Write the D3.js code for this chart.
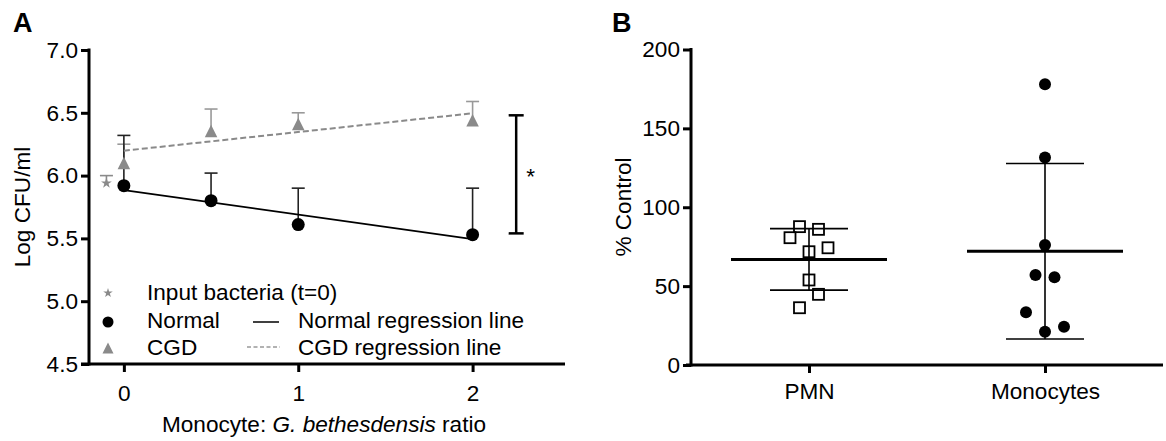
<!DOCTYPE html>
<html>
<head>
<meta charset="utf-8">
<script src="https://cdn.jsdelivr.net/npm/d3@7"></script>
<style>
  body { margin: 0; background: #fff; }
  svg { display: block; font-family: "Liberation Sans", Arial, sans-serif; }
  .axis text { font-size: 22.6px; fill: #000; }
  .axis line { stroke: #000; stroke-width: 3; }
</style>
</head>
<body>
<svg id="chart" width="1166" height="441"></svg>
<script>
// Panel A data
const ratios = [0, 0.5, 1, 2];
const normalMean = [5.92, 5.80, 5.61, 5.53];
const normalUpper = [6.32, 6.02, 5.90, 5.90];
const cgdMean = [6.10, 6.355, 6.41, 6.44];
const cgdUpper = [6.25, 6.53, 6.50, 6.59];
const inputRatio = [-0.1];
const inputMean = [5.94];
const inputUpper = [6.00];
const fitRatios = [0, 2];
const normalFit = [5.885, 5.495];
const cgdFit = [6.198, 6.496];
const sigBracket = [5.54, 6.48];
const sigRatio = 2.25;
const yTicksA = [4.5, 5.0, 5.5, 6.0, 6.5, 7.0];
const xTicksA = [0, 1, 2];
const markerLegend = ["Input bacteria (t=0)", "Normal", "CGD"];
const lineLegend = ["Normal regression line", "CGD regression line"];

// Panel B data
const groups = ["PMN", "Monocytes"];
const pmnValues = [87.7, 86.0, 80.7, 74.3, 71.8, 53.9, 44.8, 36.3];
const pmnSlot = [-1, 1, -2, 2, 0, 0, 1, -1];
const monoValues = [177.9, 131.6, 76.0, 57.0, 55.6, 33.4, 21.1, 24.3];
const monoSlot = [0, 0, 0, -1, 1, -2, 0, 2];
const yTicksB = [0, 50, 100, 150, 200];

const GREY = "#8a8a8a";
const FS = 22.6;
const svg = d3.select("#chart");

// Scales
const xA = d3.scaleLinear().domain([-0.2, 2.53]).range([89, 565]);
const yA = d3.scaleLinear().domain([4.5, 7.0]).range([364, 50]);
const xB = d3.scalePoint().domain(groups).range([691, 1163]).padding(0.5);
const yB = d3.scaleLinear().domain([0, 200]).range([365, 49.5]);

// Panel labels
svg.append("text").attr("x", 13).attr("y", 32).attr("font-size", 27).attr("font-weight", "bold").text("A");
svg.append("text").attr("x", 612).attr("y", 32).attr("font-size", 27).attr("font-weight", "bold").text("B");

// Axes for a panel
function drawAxes(x, y, xLeft, yAxis, xAxis) {
    const [x0, x1] = x.range();
    const [yb, yt] = y.range();
    const gy = svg.append("g").attr("class", "axis").attr("transform", `translate(${x0},0)`).call(yAxis);
    const gx = svg.append("g").attr("class", "axis").attr("transform", `translate(0,${yb})`).call(xAxis);
    gy.select(".domain").remove();
    gx.select(".domain").remove();
    svg.append("line").attr("x1", x0).attr("x2", x0).attr("y1", yt - 1.5).attr("y2", yb + 1.5)
        .attr("stroke", "#000").attr("stroke-width", 3);
    svg.append("line").attr("x1", xLeft).attr("x2", x1).attr("y1", yb).attr("y2", yb)
        .attr("stroke", "#000").attr("stroke-width", 3);
}

drawAxes(xA, yA, 81,
    d3.axisLeft(yA).tickValues(yTicksA).tickFormat(d3.format(".1f")).tickSize(8).tickPadding(3),
    d3.axisBottom(xA).tickValues(xTicksA).tickFormat(d3.format("d")).tickSize(8).tickPadding(13));
drawAxes(xB, yB, 686,
    d3.axisLeft(yB).tickValues(yTicksB).tickSize(8).tickPadding(3),
    d3.axisBottom(xB).tickSize(8).tickPadding(10));

// Axis titles
svg.append("text").attr("transform", "translate(30,207) rotate(-90)").attr("text-anchor", "middle")
    .attr("font-size", FS).text("Log CFU/ml");
svg.append("text").attr("transform", "translate(631,207) rotate(-90)").attr("text-anchor", "middle")
    .attr("font-size", FS).text("% Control");
const xt = svg.append("text").attr("x", 324).attr("y", 432).attr("text-anchor", "middle").attr("font-size", FS);
xt.append("tspan").text("Monocyte: ");
xt.append("tspan").attr("font-style", "italic").text("G. bethesdensis");
xt.append("tspan").text(" ratio");

// Panel A marks
const tri = s => `M0,${-s / 2}L${s / 2},${s / 2}L${-s / 2},${s / 2}Z`;

function errorBars(xs, means, uppers, color) {
    const g = svg.append("g").attr("stroke", color).attr("stroke-width", 1.6);
    xs.forEach((r, i) => {
        g.append("line").attr("x1", xA(r)).attr("x2", xA(r)).attr("y1", yA(means[i])).attr("y2", yA(uppers[i]));
        g.append("line").attr("x1", xA(r) - 6.5).attr("x2", xA(r) + 6.5).attr("y1", yA(uppers[i])).attr("y2", yA(uppers[i]));
    });
}
errorBars(inputRatio, inputMean, inputUpper, GREY);
errorBars(ratios, cgdMean, cgdUpper, "#999");
errorBars(ratios, normalMean, normalUpper, "#222");

const fitLine = d3.line().x((d, i) => xA(fitRatios[i])).y(d => yA(d));
svg.append("path").datum(cgdFit).attr("d", fitLine).attr("fill", "none")
    .attr("stroke", GREY).attr("stroke-width", 2).attr("stroke-dasharray", "6,3");
svg.append("path").datum(normalFit).attr("d", fitLine).attr("fill", "none")
    .attr("stroke", "#000").attr("stroke-width", 1.8);

svg.append("g").selectAll("path").data(cgdMean).join("path")
    .attr("transform", (d, i) => `translate(${xA(ratios[i])},${yA(d)})`)
    .attr("d", tri(12.5)).attr("fill", GREY);
svg.append("g").selectAll("circle").data(normalMean).join("circle")
    .attr("cx", (d, i) => xA(ratios[i])).attr("cy", d => yA(d)).attr("r", 6.5).attr("fill", "#000");
svg.append("g").selectAll("path").data(inputMean).join("path")
    .attr("transform", (d, i) => `translate(${xA(inputRatio[i])},${yA(d)})`)
    .attr("d", d3.symbol(d3.symbolStar, 36)()).attr("fill", GREY);

// Significance bracket
const bx = xA(sigRatio);
const bg = svg.append("g").attr("stroke", "#000").attr("stroke-width", 2.5);
bg.append("line").attr("x1", bx).attr("x2", bx).attr("y1", yA(sigBracket[0])).attr("y2", yA(sigBracket[1]));
sigBracket.forEach(v => bg.append("line").attr("x1", bx - 7.5).attr("x2", bx + 7.5).attr("y1", yA(v)).attr("y2", yA(v)));
svg.append("text").attr("x", bx + 10).attr("y", (yA(sigBracket[0]) + yA(sigBracket[1])) / 2 + 10)
    .attr("font-size", FS).text("*");

// Legend
const legendRows = [300, 328, 355];
const lg = svg.append("g").attr("font-size", FS);
lg.append("path").attr("transform", `translate(108,${legendRows[0] - 7})`).attr("d", d3.symbol(d3.symbolStar, 28)()).attr("fill", GREY);
lg.append("circle").attr("cx", 108).attr("cy", legendRows[1] - 6).attr("r", 5.5).attr("fill", "#000");
lg.append("path").attr("transform", `translate(108,${legendRows[2] - 7})`).attr("d", tri(11)).attr("fill", GREY);
markerLegend.forEach((t, i) => lg.append("text").attr("x", 147).attr("y", legendRows[i]).text(t));
lg.append("line").attr("x1", 253).attr("x2", 279).attr("y1", legendRows[1] - 6).attr("y2", legendRows[1] - 6)
    .attr("stroke", "#000").attr("stroke-width", 1.5);
lg.append("line").attr("x1", 247).attr("x2", 280).attr("y1", legendRows[2] - 8).attr("y2", legendRows[2] - 8)
    .attr("stroke", "#999").attr("stroke-width", 1.5).attr("stroke-dasharray", "4,2.5");
lineLegend.forEach((t, i) => lg.append("text").attr("x", 298).attr("y", legendRows[i + 1]).text(t));

// Panel B: mean +/- SD with points
const SLOT = 9.5;
[pmnValues, monoValues].forEach((vals, gi) => {
    const cx = xB(groups[gi]);
    const m = d3.mean(vals), sd = d3.deviation(vals);
    const g = svg.append("g").attr("stroke", "#000");
    g.append("line").attr("x1", cx).attr("x2", cx).attr("y1", yB(m - sd)).attr("y2", yB(m + sd)).attr("stroke-width", 1.6);
    [m - sd, m + sd].forEach(v => g.append("line").attr("x1", cx - 39).attr("x2", cx + 39)
        .attr("y1", yB(v)).attr("y2", yB(v)).attr("stroke-width", 1.6));
    g.append("line").attr("x1", cx - 78).attr("x2", cx + 78).attr("y1", yB(m)).attr("y2", yB(m)).attr("stroke-width", 3);
});

svg.append("g").selectAll("rect").data(pmnValues).join("rect")
    .attr("x", (d, i) => xB("PMN") + pmnSlot[i] * SLOT - 5.5)
    .attr("y", d => yB(d) - 5.5)
    .attr("width", 11).attr("height", 11)
    .attr("fill", "none").attr("stroke", "#000").attr("stroke-width", 1.8);
svg.append("g").selectAll("circle").data(monoValues).join("circle")
    .attr("cx", (d, i) => xB("Monocytes") + monoSlot[i] * SLOT)
    .attr("cy", d => yB(d)).attr("r", 6).attr("fill", "#000");
</script>
</body>
</html>
